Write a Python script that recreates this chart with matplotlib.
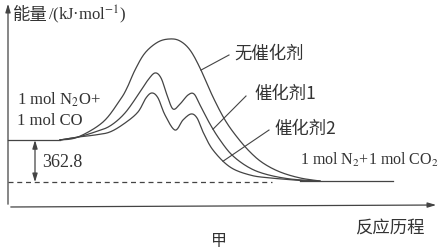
import matplotlib
matplotlib.use('Agg')
import matplotlib.pyplot as plt
import numpy as np

plt.rcParams['mathtext.fontset'] = 'stix'

# energy (kJ/mol, products = 0) along the reaction progress
reactant_E = 362.8
start_x = [8, 60]          # flat reactant level
end_x = [300, 393]         # flat product level

x_none = [60, 78, 103, 120, 127, 135, 145, 158, 170, 180, 190, 200, 213, 225, 237, 250, 263, 280, 300, 320]
E_none = [363, 389, 522, 717, 823, 982, 1133, 1230, 1257, 1239, 1159, 1000, 743, 540, 389, 257, 159, 80, 27, 0]

x_cat1 = [60, 78, 95, 110, 125, 140, 148, 155, 161, 167, 173, 180, 188, 194, 200, 210, 220, 232, 248, 265, 290, 320]
E_cat1 = [363, 389, 434, 487, 602, 788, 894, 956, 912, 761, 637, 681, 761, 770, 673, 504, 363, 230, 124, 62, 18, 0]

x_cat2 = [60, 78, 95, 110, 125, 138, 146, 152, 158, 165, 175, 183, 191, 197, 203, 213, 230, 250, 270, 307]
E_cat2 = [363, 389, 407, 434, 513, 611, 735, 779, 735, 584, 451, 540, 593, 558, 434, 274, 124, 53, 27, 0]


def smooth(xs, ys, n=16):
    p = np.column_stack([xs, ys]).astype(float)
    p = np.vstack([p[0], p, p[-1]])
    out = []
    t = np.linspace(0, 1, n, endpoint=False)
    for i in range(1, len(p) - 2):
        p0, p1, p2, p3 = p[i - 1], p[i], p[i + 1], p[i + 2]
        tt = t[:, None]
        seg = 0.5 * ((2 * p1) + (-p0 + p2) * tt + (2 * p0 - 5 * p1 + 4 * p2 - p3) * tt ** 2
                     + (-p0 + 3 * p1 - 3 * p2 + p3) * tt ** 3)
        out.append(seg)
    out.append(p[-2][None, :])
    out = np.vstack(out)
    return out[:, 0], out[:, 1]


ink = '#333333'
line = '#444444'
cjk = ['Noto Sans CJK SC', 'DejaVu Sans']
serif = ['Liberation Serif', 'DejaVu Serif']

fig = plt.figure(figsize=(4.42, 2.49), dpi=100)
ax = fig.add_axes([0, 0, 1, 1])
k = reactant_E / 41.0
ax.set_xlim(0, 442)
ax.set_ylim(-68 * k, 181 * k)
ax.axis('off')

# axes with arrows
ax.annotate('', xy=(8, 180 * k), xytext=(8, -26 * k),
            arrowprops=dict(arrowstyle='-|>,head_length=0.5,head_width=0.15', color=line, lw=0.9))
ax.annotate('', xy=(439, -24 * k), xytext=(8, -26 * k),
            arrowprops=dict(arrowstyle='-|>,head_length=0.5,head_width=0.15', color=line, lw=0.9))

ax.plot(start_x, [reactant_E, reactant_E], color=line, lw=0.9)
ax.plot(end_x, [0, 0], color=line, lw=0.9)
ax.plot([8, 272], [-1.2 * k, -1.2 * k], color=line, lw=0.9, ls=(0, (4, 3)))

curves = {}
for name, xs, ys in [('none', x_none, E_none), ('cat1', x_cat1, E_cat1), ('cat2', x_cat2, E_cat2)]:
    sx, sy = smooth(xs, ys)
    curves[name] = (sx, sy)
    ax.plot(sx, sy, color=line, lw=0.9)

# leaders
for name, x0, tx, ty in [('none', 201, 229, 1115), ('cat1', 213, 246, 752), ('cat2', 223, 269, 451)]:
    sx, sy = curves[name]
    y0 = np.interp(x0, sx, sy)
    ax.plot([x0, tx], [y0, ty], color=line, lw=0.8)

# 362.8 arrow
ax.annotate('', xy=(35, -1.2 * k), xytext=(35, reactant_E),
            arrowprops=dict(arrowstyle='<|-|>,head_length=0.5,head_width=0.15', color=line, lw=0.9,
                            shrinkA=0, shrinkB=0))
ax.text(42, 168, '362.8', fontsize=13, family=serif, color=ink, va='center', ha='left')

ax.text(13, 1469, '能量', fontsize=12.5, family=cjk, color=ink, va='center', ha='left')
ax.text(48, 1469, '/(kJ·mol$^{-1}$)', fontsize=12, family=serif, color=ink, va='center', ha='left')
ax.text(17, 717, '1 mol N$_2$O+', fontsize=12, family=serif, color=ink, va='center', ha='left')
ax.text(17, 531, '1 mol CO', fontsize=12, family=serif, color=ink, va='center', ha='left')
ax.text(300, 186, '1 mol N$_2$+1 mol CO$_2$', fontsize=11.5, family=serif, color=ink, va='center', ha='left')
ax.text(234, 1124, '无催化剂', fontsize=12.5, family=cjk, color=ink, va='center', ha='left')
ax.text(254, 770, '催化剂1', fontsize=12.5, family=cjk, color=ink, va='center', ha='left')
ax.text(274, 460, '催化剂2', fontsize=12.5, family=cjk, color=ink, va='center', ha='left')
ax.text(355, -416, '反应历程', fontsize=12.5, family=cjk, color=ink, va='center', ha='left')
ax.text(219, -531, '甲', fontsize=11.5, family=cjk, color=ink, va='center', ha='center')

fig.savefig('out.png', dpi=100, facecolor='white')
